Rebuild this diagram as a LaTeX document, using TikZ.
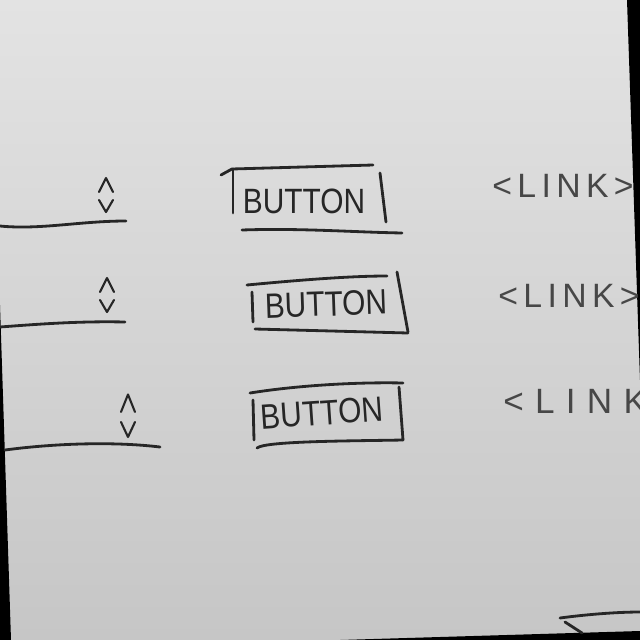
\documentclass[tikz,border=0pt]{standalone}
\usepackage{fontspec}
\setmainfont{Liberation Sans}
\newfontfamily\btnfont[FakeStretch=0.85]{Liberation Sans}
\newfontfamily\linkfont[LetterSpace=16]{Liberation Sans}
\newfontfamily\widelinkfont[LetterSpace=32]{Liberation Sans}
\usetikzlibrary{positioning}
\definecolor{inkgray}{HTML}{262626}
\definecolor{paper}{HTML}{D6D6D6}
\definecolor{paperlight}{HTML}{E3E3E3}
\definecolor{paperdark}{HTML}{C6C6C6}

\begin{document}
\begin{tikzpicture}[
  x=0.025cm, y=-0.025cm,
  ink/.style={draw=inkgray, line width=2pt, line cap=round, line join=round},
  thinink/.style={ink, line width=1.5pt},
  btnlabel/.style={text=inkgray, font=\btnfont\fontsize{25}{25}\selectfont, inner sep=0pt},
  linklabel/.style={text=inkgray!85, font=\linkfont\fontsize{24}{24}\selectfont, inner sep=0pt},
  spinner/.pic={
    \draw[thinink] (-7,-4) -- (0,-18) -- (7,-4);
    \draw[thinink] (-7,4) -- (0,16) -- (7,4);
  }
]
\useasboundingbox (0,0) rectangle (640,640);
\shade[top color=paperlight, middle color=paper, bottom color=paperdark] (0,0) rectangle (640,640);
% dark edges of the photo
\fill[black] (627,0) -- (640,0) -- (640,380) -- cycle;
\fill[black] (0,305) -- (11,640) -- (0,640) -- cycle;
\fill[black] (340,640) -- (640,631) -- (640,640) -- cycle;

% left column: select fields
\pic at (106,196) {spinner};
\draw[ink] (0,226) .. controls (40,230) and (80,221) .. (126,221);
\pic at (107,296) {spinner};
\draw[ink] (0,327) .. controls (40,324) and (80,321) .. (125,322);
\pic[yscale=1.25] at (128,417) {spinner};
\draw[ink] (5,450) .. controls (50,444) and (110,441) .. (160,447);

% middle column: buttons
\node[btnlabel] (btn1) at (304,201) {BUTTON};
\draw[ink] (221,175) -- (232,169) -- (373,165);
\draw[ink] (233,169) -- (233,213);
\draw[ink] (380,173) -- (386,222);
\draw[ink] (242,230) .. controls (300,228) and (350,232) .. (402,233);

\node[btnlabel, rotate=2] (btn2) at (326,304) {BUTTON};
\draw[ink] (247,285) .. controls (300,280) and (350,276) .. (387,276);
\draw[ink] (252,292) -- (253,322);
\draw[ink] (397,272) -- (408,332);
\draw[ink] (255,329) -- (408,333);

\node[btnlabel, rotate=4] (btn3) at (322,413) {BUTTON};
\draw[ink] (250,393) .. controls (300,385) and (360,382) .. (403,383);
\draw[ink] (253,400) -- (254,440);
\draw[ink] (399,387) -- (403,440);
\draw[ink] (257,448) .. controls (265,441) and (350,441) .. (403,440);

% right column: links
\node[linklabel] (link1) at (563,186) {<LINK>};
\node[linklabel] (link2) at (569,296) {<LINK>};
\node[linklabel, anchor=west, font=\widelinkfont\fontsize{25}{25}\selectfont] (link3) at (503,401) {<LINK};

% bottom right corner
\draw[ink] (560,618) .. controls (590,614) and (620,612) .. (640,612);
\draw[ink] (565,622) -- (582,633);
\end{tikzpicture}
\end{document}
